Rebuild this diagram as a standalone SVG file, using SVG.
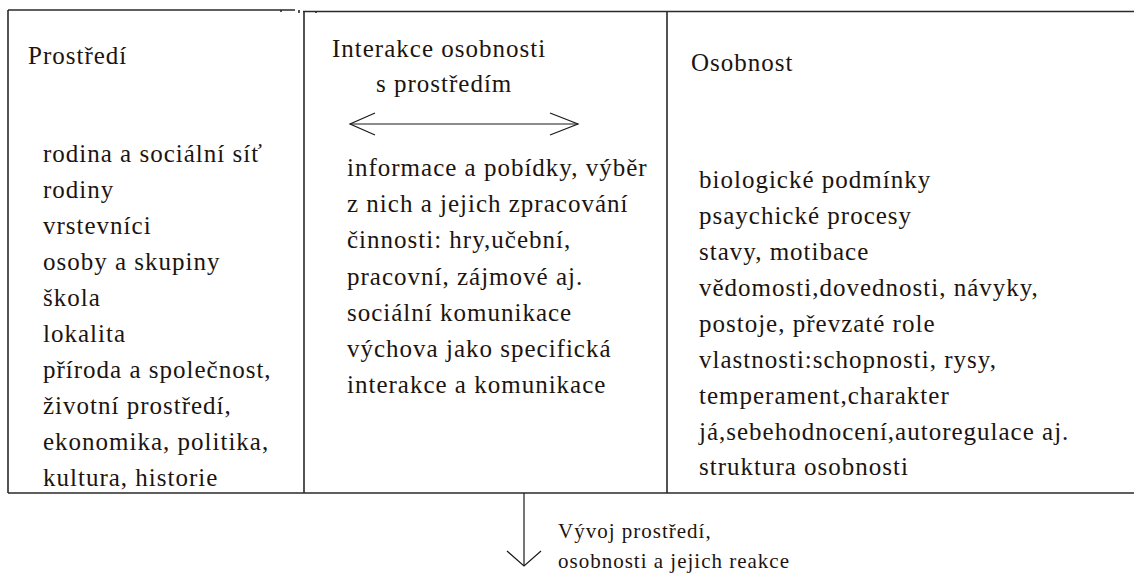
<svg xmlns="http://www.w3.org/2000/svg" width="1134" height="574" viewBox="0 0 1134 574">
  <defs>
    <style>
      .frame { stroke: #2a2a2a; stroke-width: 1.6; fill: none; }
      .conn { stroke: #1a1a1a; stroke-width: 1.2; fill: none; }
      .t { font-family: "Liberation Serif", "Times New Roman", serif; font-size: 25px; letter-spacing: 1px; fill: #1c1410; }
      .s { font-family: "Liberation Serif", "Times New Roman", serif; font-size: 21px; letter-spacing: 1px; fill: #1c1410; }
    </style>
  </defs>
  <rect width="1134" height="574" fill="#ffffff"/>

  <g id="frame">
    <path class="frame" d="M8,10 H295 M8,10 V493 M8,493 H1134 M304,11 V493 M303,11.5 H1134 M667,11 V493"/>
    <path class="frame" d="M281,10 V12 M299,10 V13 M316,11 V13" stroke-width="1"/>
  </g>

  <g id="node-prostredi">
    <text class="t" x="28" y="64">Prostředí</text>
    <text class="t" x="43" y="162">rodina a sociální síť</text>
    <text class="t" x="43" y="198">rodiny</text>
    <text class="t" x="43" y="234">vrstevníci</text>
    <text class="t" x="43" y="270">osoby a skupiny</text>
    <text class="t" x="43" y="306">škola</text>
    <text class="t" x="43" y="342">lokalita</text>
    <text class="t" x="43" y="378">příroda a společnost,</text>
    <text class="t" x="43" y="414">životní prostředí,</text>
    <text class="t" x="43" y="450">ekonomika, politika,</text>
    <text class="t" x="43" y="486">kultura, historie</text>
  </g>

  <g id="node-interakce">
    <text class="t" x="332" y="57">Interakce osobnosti</text>
    <text class="t" x="376" y="92">s prostředím</text>
    <text class="t" x="347" y="176">informace a pobídky, výběr</text>
    <text class="t" x="347" y="212">z nich a jejich zpracování</text>
    <text class="t" x="347" y="248">činnosti: hry,učební,</text>
    <text class="t" x="347" y="285">pracovní, zájmové aj.</text>
    <text class="t" x="347" y="321">sociální komunikace</text>
    <text class="t" x="347" y="357">výchova jako specifická</text>
    <text class="t" x="347" y="393">interakce a komunikace</text>
  </g>

  <g id="node-osobnost">
    <text class="t" x="691" y="71">Osobnost</text>
    <text class="t" x="699" y="188">biologické podmínky</text>
    <text class="t" x="699" y="224">psaychické procesy</text>
    <text class="t" x="699" y="260">stavy, motibace</text>
    <text class="t" x="699" y="296">vědomosti,dovednosti, návyky,</text>
    <text class="t" x="699" y="332">postoje, převzaté role</text>
    <text class="t" x="699" y="368">vlastnosti:schopnosti, rysy,</text>
    <text class="t" x="699" y="404">temperament,charakter</text>
    <text class="t" x="699" y="440">já,sebehodnocení,autoregulace aj.</text>
    <text class="t" x="699" y="475">struktura osobnosti</text>
  </g>

  <g id="node-vyvoj">
    <text class="s" x="558" y="538">Vývoj prostředí,</text>
    <text class="s" x="558" y="568">osobnosti a jejich reakce</text>
  </g>

  <g id="connectors">
    <path class="conn" d="M350,124 H578"/>
    <path class="conn" d="M375,113 L350,124 L375,135"/>
    <path class="conn" d="M550,113 L578,124 L550,135"/>
    <path class="conn" d="M524,493 V566"/>
    <path class="conn" d="M507,551 L524,566 L541,551"/>
  </g>
</svg>
